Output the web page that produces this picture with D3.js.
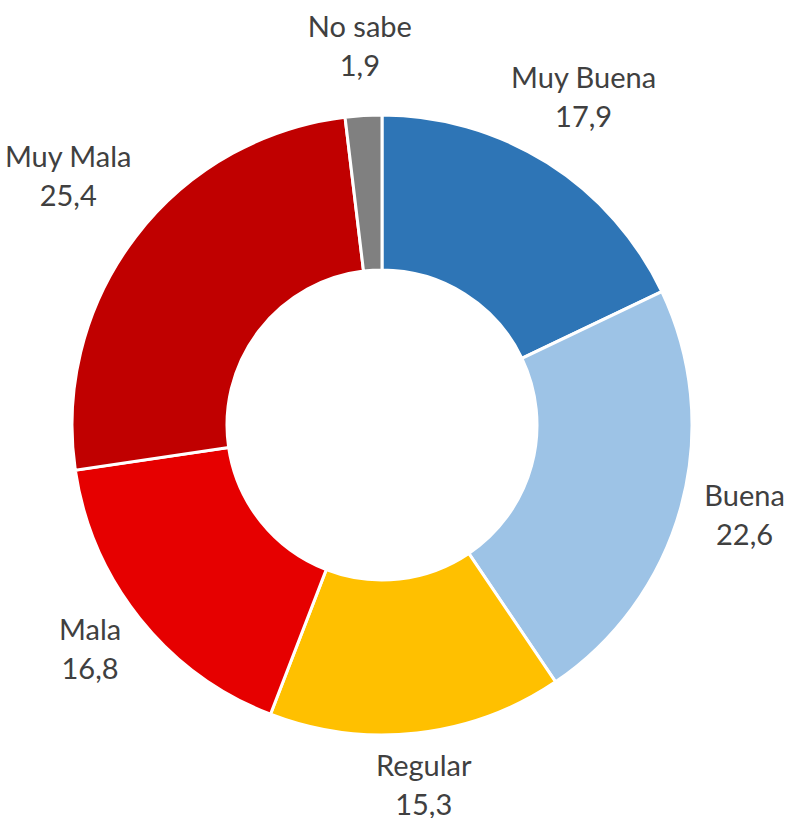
<!DOCTYPE html>
<html>
<head>
<meta charset="utf-8">
<script src="https://cdn.jsdelivr.net/npm/d3@7"></script>
<style>
  body { margin: 0; background: #fff; }
  svg text { font-family: Lato, "Open Sans", sans-serif; fill: #404040; }
</style>
</head>
<body>
<script>
const CATEGORIES = ["Muy Buena", "Buena", "Regular", "Mala", "Muy Mala", "No sabe"];
const VALUES = [17.9, 22.6, 15.3, 16.8, 25.4, 1.9];
const COLORS = ["#2E75B6", "#9DC3E6", "#FFC000", "#E60000", "#C00000", "#808080"];

const width = 787,
  height = 818,
  cx = 382,
  cy = 425,
  outerR = 310,
  innerR = 155,
  pad = 24,
  labelDy = -10;

const data = CATEGORIES.map((c, i) => ({ name: c, value: VALUES[i] }));

const svg = d3
  .select("body")
  .append("svg")
  .attr("width", width)
  .attr("height", height);

const g = svg.append("g").attr("transform", `translate(${cx},${cy})`);

const pie = d3.pie().value(d => d.value).sort(null);
const arc = d3.arc().innerRadius(innerR).outerRadius(outerR);
const color = d3.scaleOrdinal().domain(CATEGORIES).range(COLORS);

const arcs = pie(data);

g.selectAll("path")
  .data(arcs)
  .join("path")
  .attr("d", arc)
  .attr("fill", d => color(d.data.name))
  .attr("stroke", "#fff")
  .attr("stroke-width", 3);

const fmt = v => v.toFixed(1).replace(".", ",");

const labels = g
  .selectAll("g.label")
  .data(arcs)
  .join("g")
  .attr("class", "label");

labels
  .append("text")
  .attr("text-anchor", "middle")
  .attr("font-size", 29)
  .attr("y", 0)
  .text(d => d.data.name);

labels
  .append("text")
  .attr("text-anchor", "middle")
  .attr("font-size", 29)
  .attr("y", 39)
  .text(d => fmt(d.data.value));

// push each label box out so its nearest edge sits just outside the ring
labels.each(function (d) {
  const box = this.getBBox();
  const a = (d.startAngle + d.endAngle) / 2;
  const s = Math.abs(Math.sin(a)),
    c = Math.abs(Math.cos(a));
  const hw = box.width / 2,
    hh = box.height / 2;
  const ext = Math.min(s > 1e-6 ? hw / s : Infinity, c > 1e-6 ? hh / c : Infinity);
  const r = outerR + pad + ext;
  const mx = box.x + hw,
    my = box.y + hh;
  d3.select(this).attr(
    "transform",
    `translate(${Math.sin(a) * r - mx},${-Math.cos(a) * r - my + labelDy})`
  );
});
</script>
</body>
</html>
